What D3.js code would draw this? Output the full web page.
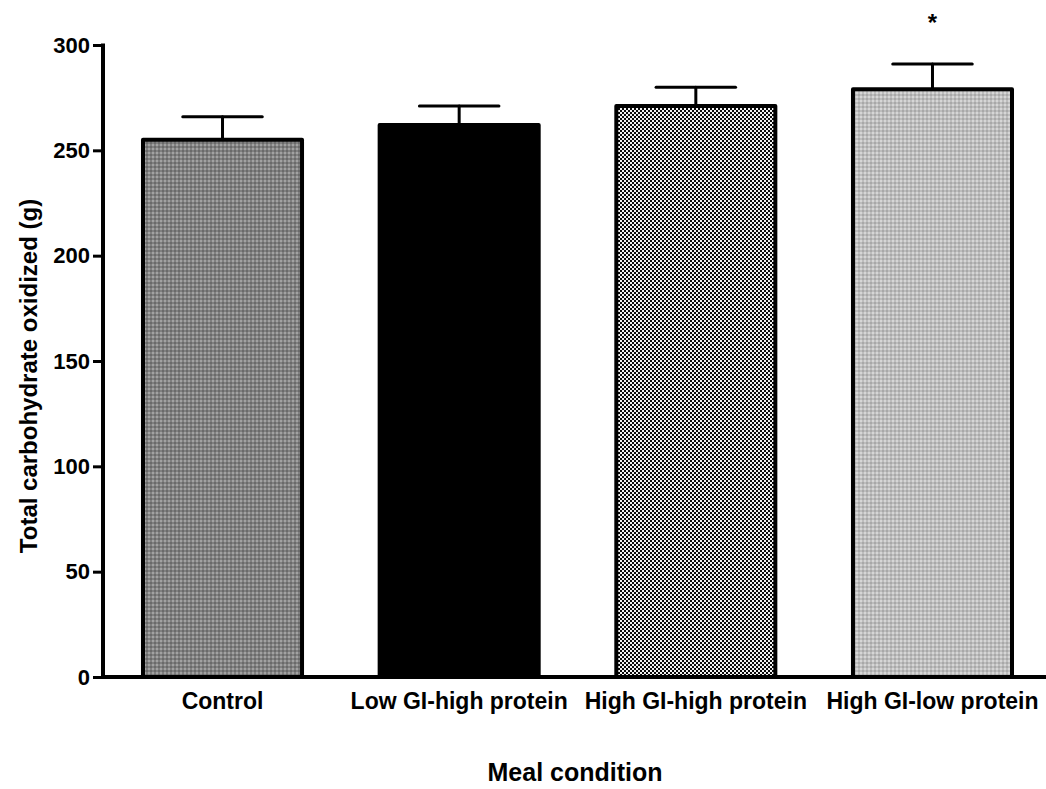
<!DOCTYPE html>
<html>
<head>
<meta charset="utf-8">
<script src="https://cdn.jsdelivr.net/npm/d3@7/dist/d3.min.js"></script>
<style>
  html, body { margin: 0; padding: 0; background: #fff; }
  svg { display: block; font-family: "Liberation Sans", Arial, sans-serif; }
</style>
</head>
<body>
<svg id="chart" width="1046" height="789"></svg>
<script>
const categories = ["Control", "Low GI-high protein", "High GI-high protein", "High GI-low protein"];
const means = [255, 262, 271, 279];
const errors = [11, 9, 9, 12];
const significance = ["", "", "", "*"];
const yTicks = [0, 50, 100, 150, 200, 250, 300];
const fills = ["url(#patControl)", "#000", "url(#patChecker)", "url(#patLight)"];

const svg = d3.select("#chart");
const defs = svg.append("defs");

function pattern(id, size, bg, rects) {
  const p = defs.append("pattern").attr("id", id).attr("patternUnits", "userSpaceOnUse")
    .attr("width", size).attr("height", size);
  p.append("rect").attr("width", size).attr("height", size).attr("fill", bg);
  rects.forEach(r => p.append("rect").attr("x", r[0]).attr("y", r[1]).attr("width", r[2]).attr("height", r[3]).attr("fill", r[4]));
}
pattern("patControl", 4, "#808080", [[0,0,2,2,"#a2a2a2"],[2,2,2,2,"#6a6a6a"]]);
pattern("patChecker", 4, "#0a0a0a", [[0,0,2,2,"#f2f2f2"],[2,2,2,2,"#f2f2f2"]]);
pattern("patLight", 4, "#bdbdbd", [[0,0,2,2,"#d6d6d6"],[2,2,2,2,"#a8a8a8"]]);

const y = d3.scaleLinear().domain([0, 300]).range([677, 45]);
const x = d3.scaleBand().domain(categories).range([103, 1052]).paddingInner(0.328).paddingOuter(0.169);

// Bars
svg.append("g").selectAll("rect").data(categories).join("rect")
  .attr("x", d => x(d))
  .attr("y", (d, i) => y(means[i]))
  .attr("width", x.bandwidth())
  .attr("height", (d, i) => y(0) - y(means[i]))
  .attr("fill", (d, i) => fills[i])
  .attr("stroke", "#000")
  .attr("stroke-width", 4)
  .attr("stroke-linejoin", "round");

// Error bars (upper)
const eb = svg.append("g").attr("stroke", "#000").attr("stroke-width", 3).attr("stroke-linecap", "round");
categories.forEach((c, i) => {
  const cx = x(c) + x.bandwidth() / 2;
  const capW = x.bandwidth() / 2;
  eb.append("line").attr("x1", cx).attr("x2", cx).attr("y1", y(means[i]) - 2).attr("y2", y(means[i] + errors[i]));
  eb.append("line").attr("x1", cx - capW / 2).attr("x2", cx + capW / 2).attr("y1", y(means[i] + errors[i])).attr("y2", y(means[i] + errors[i]));
});

// Significance markers
svg.append("g").selectAll("text").data(categories).join("text")
  .attr("x", d => x(d) + x.bandwidth() / 2)
  .attr("y", 31)
  .attr("text-anchor", "middle")
  .attr("font-size", 24)
  .attr("font-weight", "bold")
  .text((d, i) => significance[i]);

// Y axis
const yAxis = svg.append("g").attr("transform", "translate(103,0)")
  .call(d3.axisLeft(y).tickValues(yTicks).tickSize(10).tickPadding(3));
yAxis.select(".domain").remove();
yAxis.selectAll(".tick line").attr("stroke", "#000").attr("stroke-width", 3);
yAxis.selectAll(".tick text").attr("font-size", 22).attr("font-weight", "bold").attr("fill", "#000")
  .attr("font-family", "Liberation Sans, Arial, sans-serif");
svg.append("line").attr("x1", 103).attr("x2", 103).attr("y1", y(300) - 1.5).attr("y2", y(0) + 2)
  .attr("stroke", "#000").attr("stroke-width", 4);

// X axis
const xAxis = svg.append("g").attr("transform", "translate(0,677)")
  .call(d3.axisBottom(x).tickSize(0).tickPadding(16));
xAxis.select(".domain").remove();
xAxis.selectAll(".tick text").attr("font-size", 23).attr("font-weight", "bold").attr("fill", "#000")
  .attr("font-family", "Liberation Sans, Arial, sans-serif");
svg.append("line").attr("x1", 101).attr("x2", 1046).attr("y1", 677).attr("y2", 677)
  .attr("stroke", "#000").attr("stroke-width", 4);

// Axis titles
svg.append("text").attr("x", 575).attr("y", 781).attr("text-anchor", "middle")
  .attr("font-size", 25).attr("font-weight", "bold").text("Meal condition");
svg.append("text").attr("transform", "translate(37,376) rotate(-90)").attr("text-anchor", "middle")
  .attr("font-size", 24).attr("font-weight", "bold").text("Total carbohydrate oxidized (g)");
</script>
</body>
</html>
